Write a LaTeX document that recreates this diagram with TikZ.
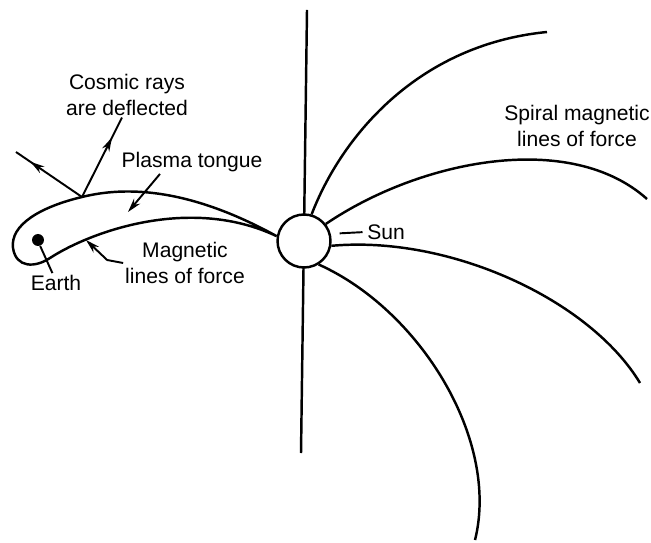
\documentclass[tikz,border=0pt]{standalone}
\usepackage{fontspec}
\setmainfont{Liberation Sans}
\usetikzlibrary{arrows.meta,decorations.markings}

\tikzset{
  field/.style={line width=1.4pt},
  pointer/.style={line width=1.1pt},
  label/.style={align=center, inner sep=1pt, font=\fontsize{12}{14.5}\selectfont},
  midarrow/.style={decoration={markings, mark=at position #1 with {\arrow{Stealth[length=8pt,width=4.5pt]}}}, postaction={decorate}},
  midarrow/.default=0.75
}

\begin{document}
\begin{tikzpicture}[x=0.02cm, y=-0.02cm]
  \useasboundingbox (0,0) rectangle (651,543);

  % 1) Sun with its vertical line
  \draw[field] (307,10) -- (301,453);
  \node[circle, draw, fill=white, field, minimum size=1.06cm, inner sep=0pt] (sun) at (304,241) {};

  % 2) Spiral magnetic lines of force
  \draw[field] (sun.74) .. controls (340,140) and (415,45) .. (547,32);
  \draw[field] (sun.38) .. controls (420,160) and (570,130) .. (647,199);
  \draw[field] (sun.-10) .. controls (450,235) and (590,300) .. (640,383);
  \draw[field] (sun.-58) .. controls (420,310) and (500,440) .. (475,540);

  % 3) Plasma tongue round the Earth
  \draw[field] (sun.170) .. controls (220,205) and (150,180) .. (82,197)
    .. controls (40,207) and (10,225) .. (13,248)
    .. controls (16,268) and (35,268) .. (50,258)
    .. controls (90,232) and (190,195) .. (sun.170);
  \node[circle, fill=black, minimum size=0.24cm, inner sep=0pt] (earth) at (38,240) {};

  % 4) Labels
  \node[label] (cosmic) at (127,95) {Cosmic rays\\are deflected};
  \node[label] (plasma) at (192,162) {Plasma tongue};
  \node[label] (magnetic) at (185,263) {Magnetic\\lines of force};
  \node[label] (earthlabel) at (56,283) {Earth};
  \node[label] (sunlabel) at (386,232) {Sun};
  \node[label] (spiral) at (577,126) {Spiral magnetic\\lines of force};

  % 5) Pointers
  \coordinate (deflect) at (82,197);
  \coordinate (rayout) at (16,152);
  \coordinate (tonguein) at (128,212);
  \coordinate (magline) at (86,240);
  \draw[pointer, midarrow=0.75] (deflect) -- ([xshift=-0.1cm]cosmic.south);
  \draw[pointer, midarrow=0.78] (deflect) -- (rayout);
  \draw[pointer, -{Stealth[length=8pt,width=4.5pt]}] ([xshift=-0.64cm]plasma.south) -- (tonguein);
  \draw[pointer, -{Stealth[length=8pt,width=4.5pt]}] (magnetic.west) -- ++(-16,-3) -- (magline);
  \draw[pointer] (earth.-70) -- (earthlabel.110);
  \draw[pointer, shorten <=5pt, shorten >=1.5pt] (sun.15) -- (sunlabel.west);
\end{tikzpicture}
\end{document}
